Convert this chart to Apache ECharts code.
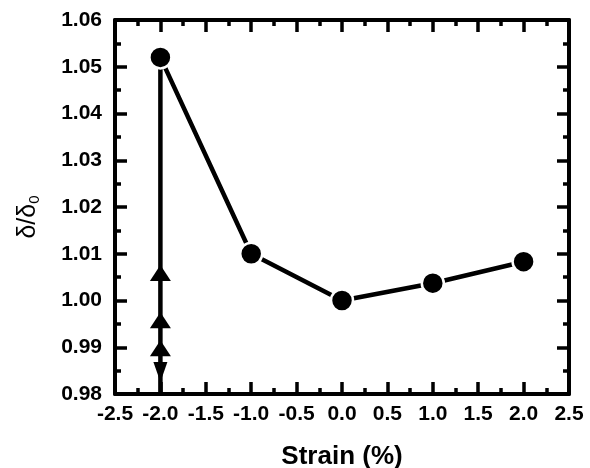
<!DOCTYPE html>
<html><head><meta charset="utf-8">
<script src="https://cdn.jsdelivr.net/npm/echarts@6/dist/echarts.min.js"></script>
<style>html,body{margin:0;padding:0;background:#fff}#c{width:590px;height:468px}</style>
</head><body><div id="c"></div>
<script>
// Data
const strain = [-2, -1, 0, 1, 2];
const ratio = [1.052, 1.010, 1.000, 1.0037, 1.0083];
const boundX = -2;
const boundTop = 1.052;
const boundBottom = 0.98;
const upArrows = [1.0059, 0.9958, 0.9898];
const downArrows = [0.9847];
const xTicks = ['-2.5','-2.0','-1.5','-1.0','-0.5','0.0','0.5','1.0','1.5','2.0','2.5'];
const yTicks = ['0.98','0.99','1.00','1.01','1.02','1.03','1.04','1.05','1.06'];

const FONT = 'Liberation Sans, Arial, sans-serif';
const chart = echarts.init(document.getElementById('c'), null, {renderer: 'canvas'});

const axisCommon = {
  axisLine: {show: true, onZero: false, lineStyle: {color: '#000', width: 4}},
  axisTick: {show: true, inside: true, length: 12, lineStyle: {color: '#000', width: 3.5}},
  minorTick: {show: true, splitNumber: 2, length: 6, lineStyle: {color: '#000', width: 3.5}},
  splitLine: {show: false}
};

chart.setOption({
  animation: false,
  backgroundColor: '#fff',
  grid: {left: 115, right: 21, top: 20, bottom: 74, containLabel: false, outerBoundsMode: 'none'},
  xAxis: [
    Object.assign({
      type: 'value', min: -2.5, max: 2.5, interval: 0.5, position: 'bottom',
      name: 'Strain (%)', nameLocation: 'middle', nameGap: 50,
      nameTextStyle: {fontFamily: FONT, fontWeight: 'bold', fontSize: 26, color: '#000'},
      axisLabel: {margin: 10, fontFamily: FONT, fontWeight: 'bold', fontSize: 21, color: '#000',
        formatter: v => xTicks[Math.round((v + 2.5) / 0.5)]}
    }, axisCommon),
    Object.assign({
      type: 'value', min: -2.5, max: 2.5, interval: 0.5, position: 'top',
      axisLabel: {show: false}
    }, axisCommon)
  ],
  yAxis: [
    Object.assign({
      type: 'value', min: 0.98, max: 1.06, interval: 0.01, position: 'left',
      name: '{a|δ/δ}{s|0}', nameLocation: 'middle', nameGap: 73, nameRotate: 90,
      nameTextStyle: {fontFamily: FONT, color: '#000', padding: [0, 20, 0, 0],
        rich: {a: {fontFamily: FONT, fontSize: 25, color: '#000'},
               s: {fontFamily: FONT, fontSize: 15, color: '#000', padding: [12, 0, 0, 0]}}},
      axisLabel: {margin: 13, fontFamily: FONT, fontWeight: 'bold', fontSize: 21, color: '#000',
        formatter: v => yTicks[Math.round((v - 0.98) / 0.01)]}
    }, axisCommon),
    Object.assign({
      type: 'value', min: 0.98, max: 1.06, interval: 0.01, position: 'right',
      axisLabel: {show: false}
    }, axisCommon)
  ],
  series: [
    {
      type: 'line', data: [[boundX, boundTop], [boundX, boundBottom]],
      symbol: 'none', lineStyle: {color: '#000', width: 4.5}, z: 2
    },
    {
      type: 'scatter', data: upArrows.map(v => [boundX, v]),
      symbol: 'triangle', symbolSize: [21, 16], itemStyle: {color: '#000', opacity: 1}, z: 3
    },
    {
      type: 'scatter', data: downArrows.map(v => [boundX, v]),
      symbol: 'triangle', symbolRotate: 180, symbolSize: [14, 20], itemStyle: {color: '#000', opacity: 1}, z: 3
    },
    {
      type: 'line', data: strain.map((x, i) => [x, ratio[i]]),
      symbol: 'circle', symbolSize: 22, showAllSymbol: true,
      lineStyle: {color: '#000', width: 4.5},
      itemStyle: {color: '#000', borderColor: '#fff', borderWidth: 2.5, opacity: 1}, z: 4
    }
  ]
});
</script></body></html>
